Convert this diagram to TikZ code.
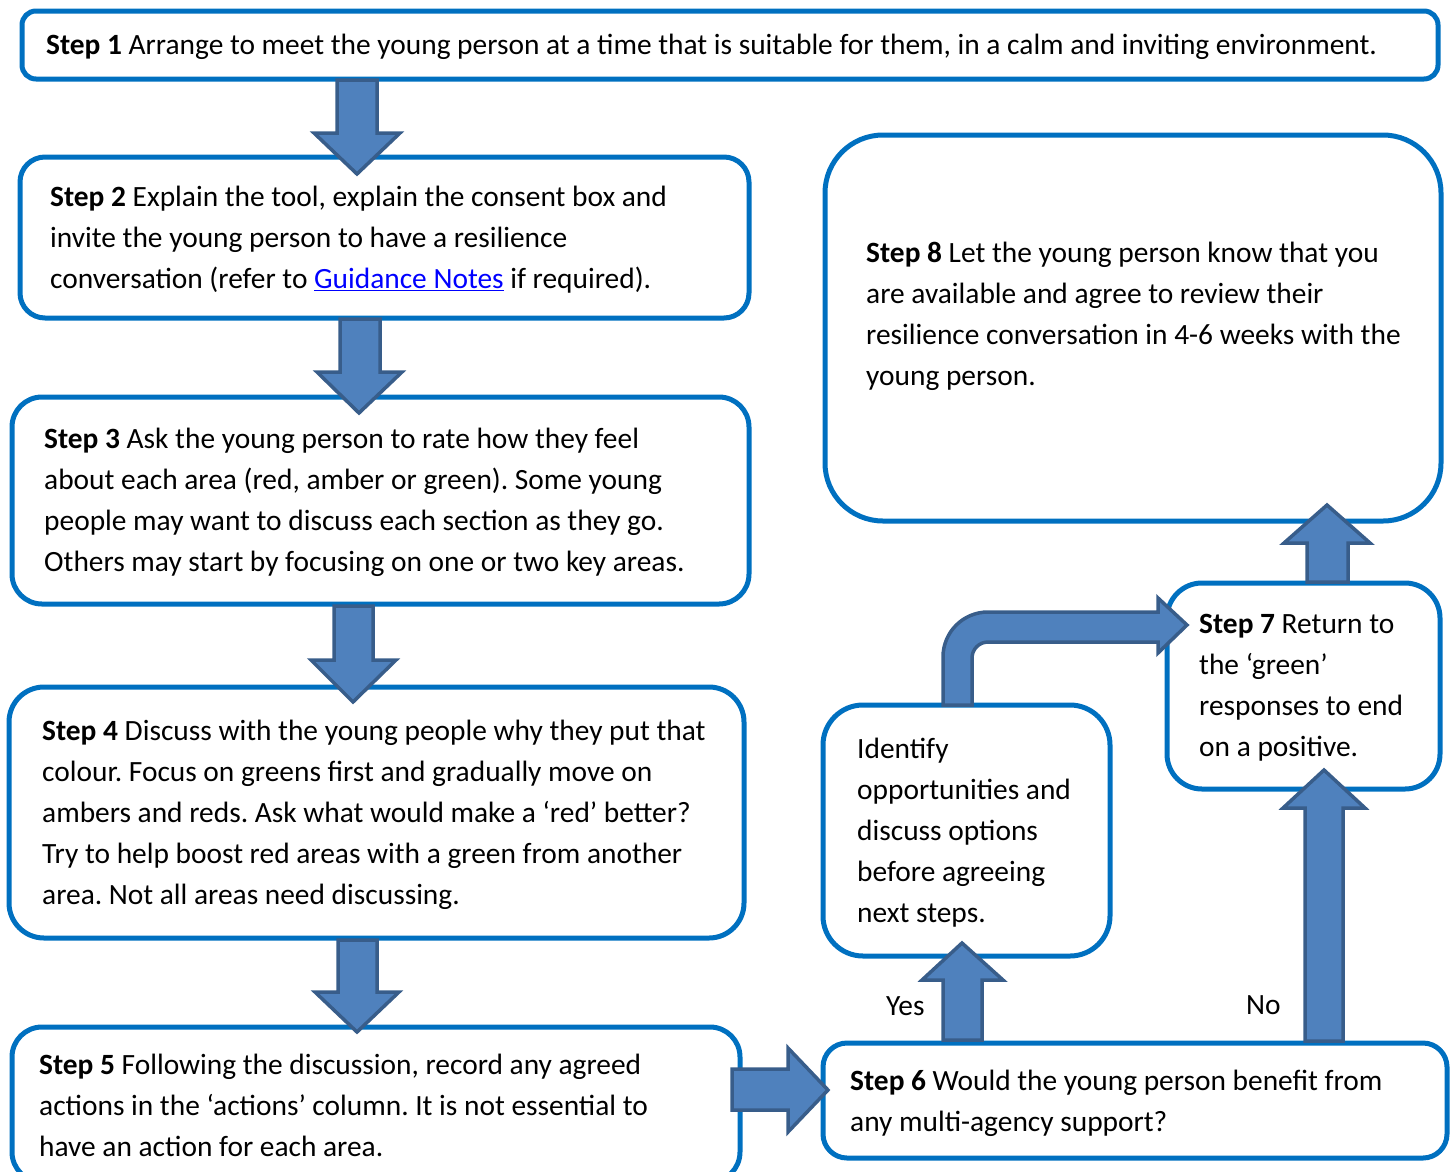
\documentclass[tikz,border=0pt]{standalone}
\usepackage{fontspec}
\setmainfont{Carlito}
\frenchspacing
\definecolor{boxblue}{HTML}{0070C0}
\definecolor{arrowfill}{HTML}{4F81BD}
\definecolor{arrowedge}{HTML}{385D8A}
\definecolor{linkblue}{HTML}{0000FF}
\begin{document}
\begin{tikzpicture}[x=1pt,y=-1pt,
  box/.style={draw=boxblue, line width=5pt, rectangle, inner sep=0pt},
  blockarrow/.style={fill=arrowfill, draw=arrowedge, line width=3.5pt, line join=miter},
  txt/.style={anchor=north west, inner sep=0pt, align=left, font=\fontsize{29.4}{41}\selectfont\frenchspacing},
  lbl/.style={anchor=base west, inner sep=0pt, font=\fontsize{29.4}{41}\selectfont\frenchspacing}]
\useasboundingbox (0,0) rectangle (1454,1171);
\clip (0,0) rectangle (1454,1171);
% boxes
\node[box, rounded corners=14pt, minimum width=1416pt, minimum height=68pt] (b1) at (730,45) {};
\node[box, rounded corners=25pt, minimum width=729pt, minimum height=161pt] (b2) at (384.5,237.5) {};
\node[box, rounded corners=30pt, minimum width=737pt, minimum height=207pt] (b3) at (380.5,500.5) {};
\node[box, rounded corners=35pt, minimum width=735pt, minimum height=251pt] (b4) at (376.5,812.5) {};
\node[box, rounded corners=30pt, minimum width=728pt, minimum height=155pt] (b5) at (376,1104.5) {};
\node[box, rounded corners=24pt, minimum width=624pt, minimum height=115pt] (b6) at (1135,1100.5) {};
\node[box, rounded corners=40pt, minimum width=287pt, minimum height=251pt] (bI) at (966.5,830.5) {};
\node[box, rounded corners=35pt, minimum width=273pt, minimum height=206pt] (b7) at (1303.5,686) {};
\node[box, rounded corners=58pt, minimum width=616pt, minimum height=386pt] (b8) at (1133,328) {};
% texts
\node[lbl] (t1) at (46,54) {\textbf{Step 1} Arrange to meet the young person at a time that is suitable for them, in a calm and inviting environment.};
\node[txt] (t2) at (50,178) {\strut\textbf{Step 2} Explain the tool, explain the consent box and\\invite the young person to have a resilience\\conversation (refer to \textcolor{linkblue}{\underline{Guidance Notes}} if required).};
\node[txt] (t3) at (44,419.5) {\strut\textbf{Step 3} Ask the young person to rate how they feel\\about each area (red, amber or green). Some young\\people may want to discuss each section as they go.\\Others may start by focusing on one or two key areas.};
\node[txt] (t4) at (42,712) {\strut\textbf{Step 4} Discuss with the young people why they put that\\colour. Focus on greens first and gradually move on\\ambers and reds. Ask what would make a ‘red’ better?\\Try to help boost red areas with a green from another\\area. Not all areas need discussing.};
\node[txt] (t5) at (39,1046) {\strut\textbf{Step 5} Following the discussion, record any agreed\\actions in the ‘actions’ column. It is not essential to\\have an action for each area.};
\node[txt] (t6) at (850,1061.5) {\strut\textbf{Step 6} Would the young person benefit from\\any multi-agency support?};
\node[txt] (tI) at (857,730) {\strut Identify\\opportunities and\\discuss options\\before agreeing\\next steps.};
\node[txt] (t7) at (1199,605) {\strut\textbf{Step 7} Return to\\the ‘green’\\responses to end\\on a positive.};
\node[txt] (t8) at (866,233.5) {\strut\textbf{Step 8} Let the young person know that you\\are available and agree to review their\\resilience conversation in 4-6 weeks with the\\young person.};
\node[lbl] (yes) at (886,1015) {Yes};
\node[lbl] (no) at (1246,1014) {No};
% block arrows
\filldraw[blockarrow] (337,80) -- (377,80) -- (377,133) -- (400,133) -- (357,174) -- (314,133) -- (337,133) -- cycle;
\filldraw[blockarrow] (340,319) -- (380,319) -- (380,372) -- (402,372) -- (359,413) -- (317,372) -- (340,372) -- cycle;
\filldraw[blockarrow] (334,606) -- (373,606) -- (373,660) -- (396,660) -- (353,702) -- (311,660) -- (334,660) -- cycle;
\filldraw[blockarrow] (338,940) -- (377,940) -- (377,992) -- (399,992) -- (357,1032) -- (315,992) -- (338,992) -- cycle;
\filldraw[blockarrow] (732,1069) -- (788,1069) -- (788,1048) -- (828,1090) -- (788,1132) -- (788,1110) -- (732,1110) -- cycle;
\filldraw[blockarrow] (943,1040) -- (943,980) -- (922,980) -- (962,943) -- (1003,980) -- (982,980) -- (982,1040) -- cycle;
\filldraw[blockarrow] (1305,1041) -- (1305,808) -- (1283,808) -- (1324,770) -- (1365,808) -- (1343,808) -- (1343,1041) -- cycle;
\filldraw[blockarrow] (1307,582) -- (1307,543) -- (1284,543) -- (1327,505) -- (1370,543) -- (1348,543) -- (1348,582) -- cycle;
\filldraw[blockarrow] (943,705) -- (943,657) .. controls (943,632.1) and (963.1,612) .. (988,612) -- (1158,612) -- (1158,598) -- (1187,625) -- (1158,653) -- (1158,642) -- (988,642) .. controls (979.2,642) and (972,649.2) .. (972,658) -- (972,705) -- cycle;
\end{tikzpicture}
\end{document}
